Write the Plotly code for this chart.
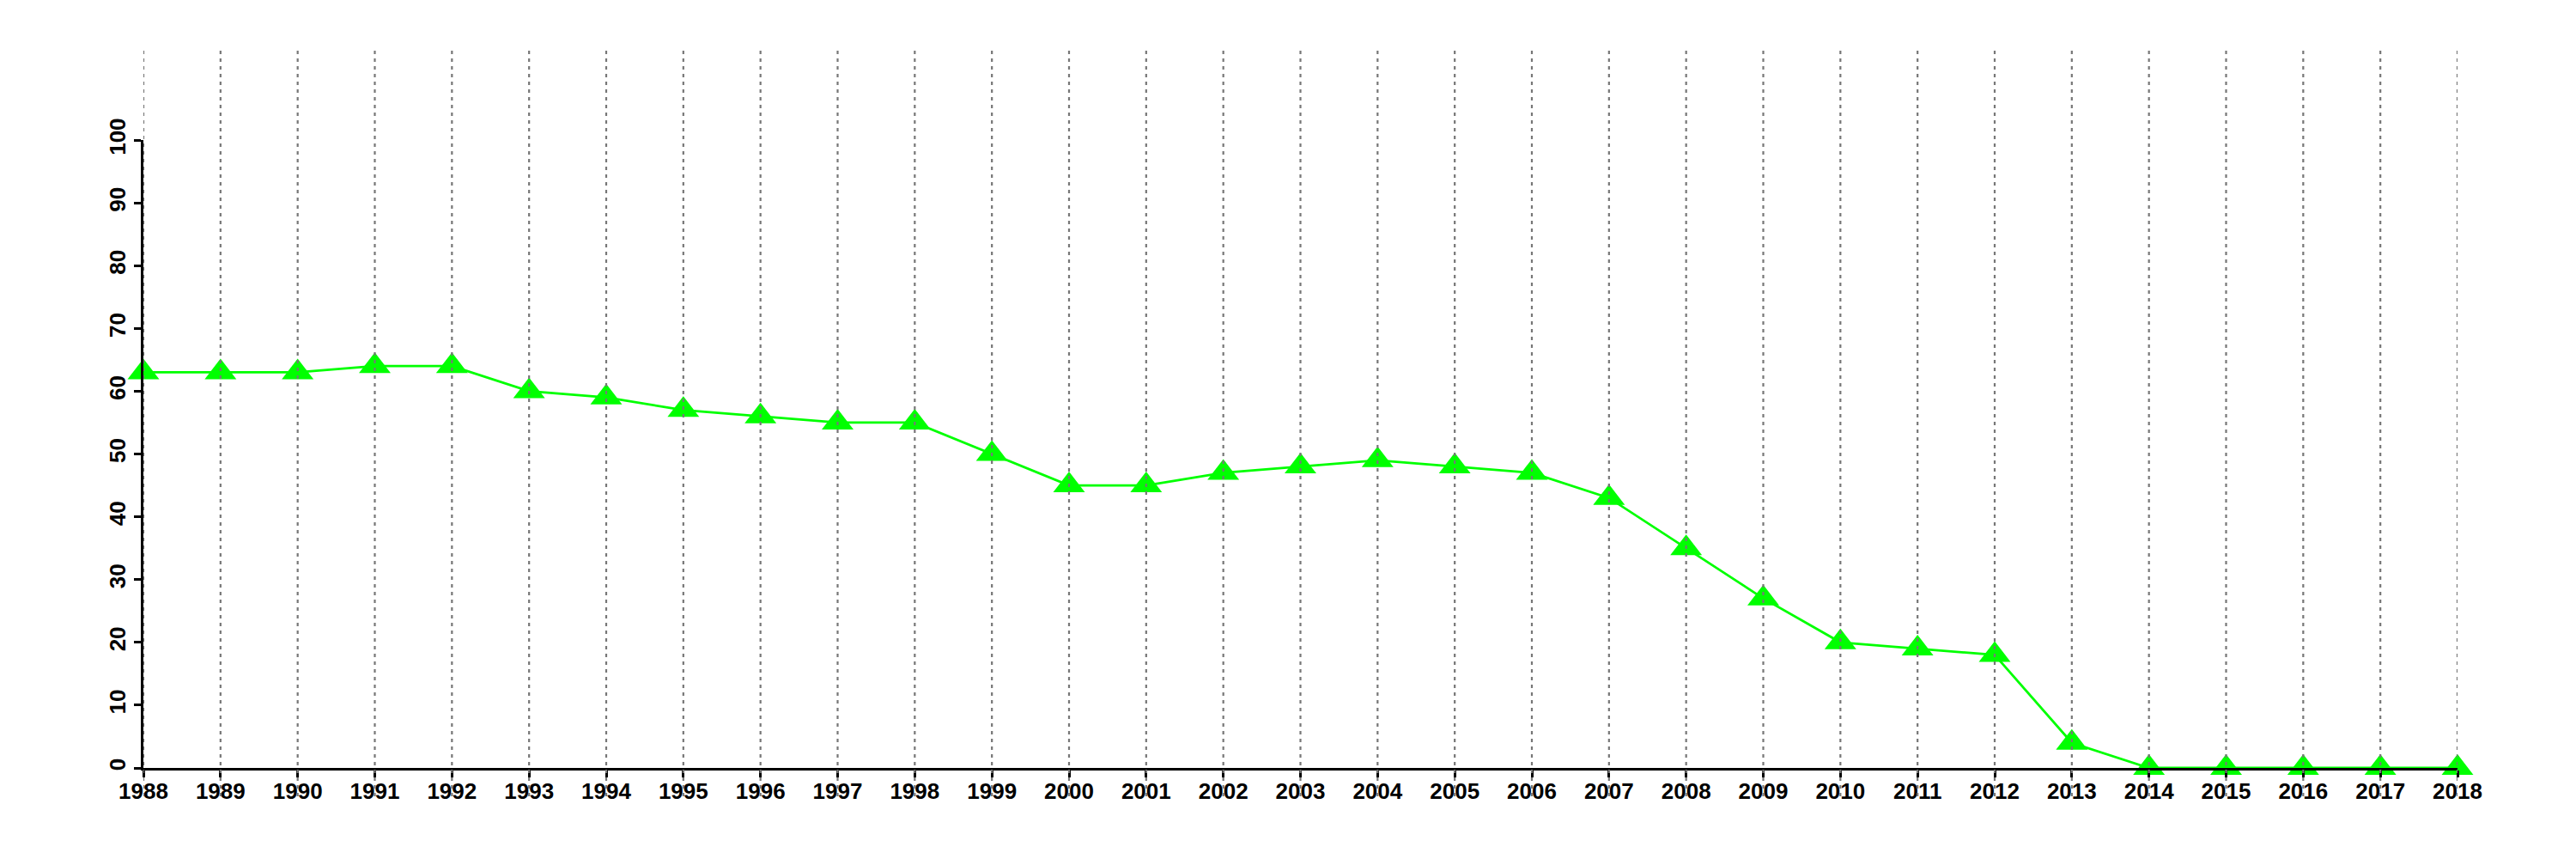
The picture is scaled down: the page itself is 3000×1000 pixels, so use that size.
import plotly.graph_objects as go

years = list(range(1988, 2019))
values = [63, 63, 63, 64, 64, 60, 59, 57, 56, 55, 55, 50, 45, 45, 47, 48, 49, 48, 47, 43,
          35, 27, 20, 19, 18, 4, 0, 0, 0, 0, 0]
y_ticks = list(range(0, 101, 10))

# page has an 8px body margin; figure sized to fit the 3000x1000 window
W, H = 2984, 984
ml, mt = 159, 155
plot_w, plot_h = 2695, 731
mr = W - ml - plot_w
mb = H - mt - plot_h
plot_bottom = mt + plot_h

grid_top = (plot_bottom - 51) / plot_h
grid_bot = -(919 - plot_bottom) / plot_h

fig = go.Figure()
fig.add_trace(go.Scatter(
    x=years, y=values, mode="lines+markers",
    line=dict(color="#00FF00", width=2.8),
    marker=dict(symbol="triangle-up", size=32, color="#00FF00", line=dict(width=0)),
    cliponaxis=False, showlegend=False,
))

for yr in years:
    fig.add_shape(type="line", xref="x", yref="paper", x0=yr, x1=yr,
                  y0=grid_bot, y1=grid_top, layer="above",
                  line=dict(color="#777777", width=2.2, dash="4px,5px"))

tickfont = dict(family="Liberation Sans", size=26, color="black", weight="bold")
fig.update_layout(
    width=W, height=H,
    margin=dict(l=ml, r=mr, t=mt, b=mb, pad=0),
    plot_bgcolor="white", paper_bgcolor="white",
    xaxis=dict(range=[years[0], years[-1]], tickvals=years, ticktext=[str(y) for y in years],
               showgrid=False, zeroline=False, showline=True, linecolor="black", linewidth=2.5,
               ticks="outside", ticklen=8, tickwidth=2.5, tickcolor="black",
               tickfont=tickfont, tickangle=0, automargin=False, ticklabelstandoff=-6),
    yaxis=dict(range=[0, 100], tickvals=y_ticks, showgrid=False, zeroline=False,
               showline=True, linecolor="black", linewidth=2.5,
               ticks="outside", ticklen=8, tickwidth=2.5, tickcolor="black",
               tickfont=tickfont, tickangle=-90, automargin=False),
)

fig.write_html("out.html")
